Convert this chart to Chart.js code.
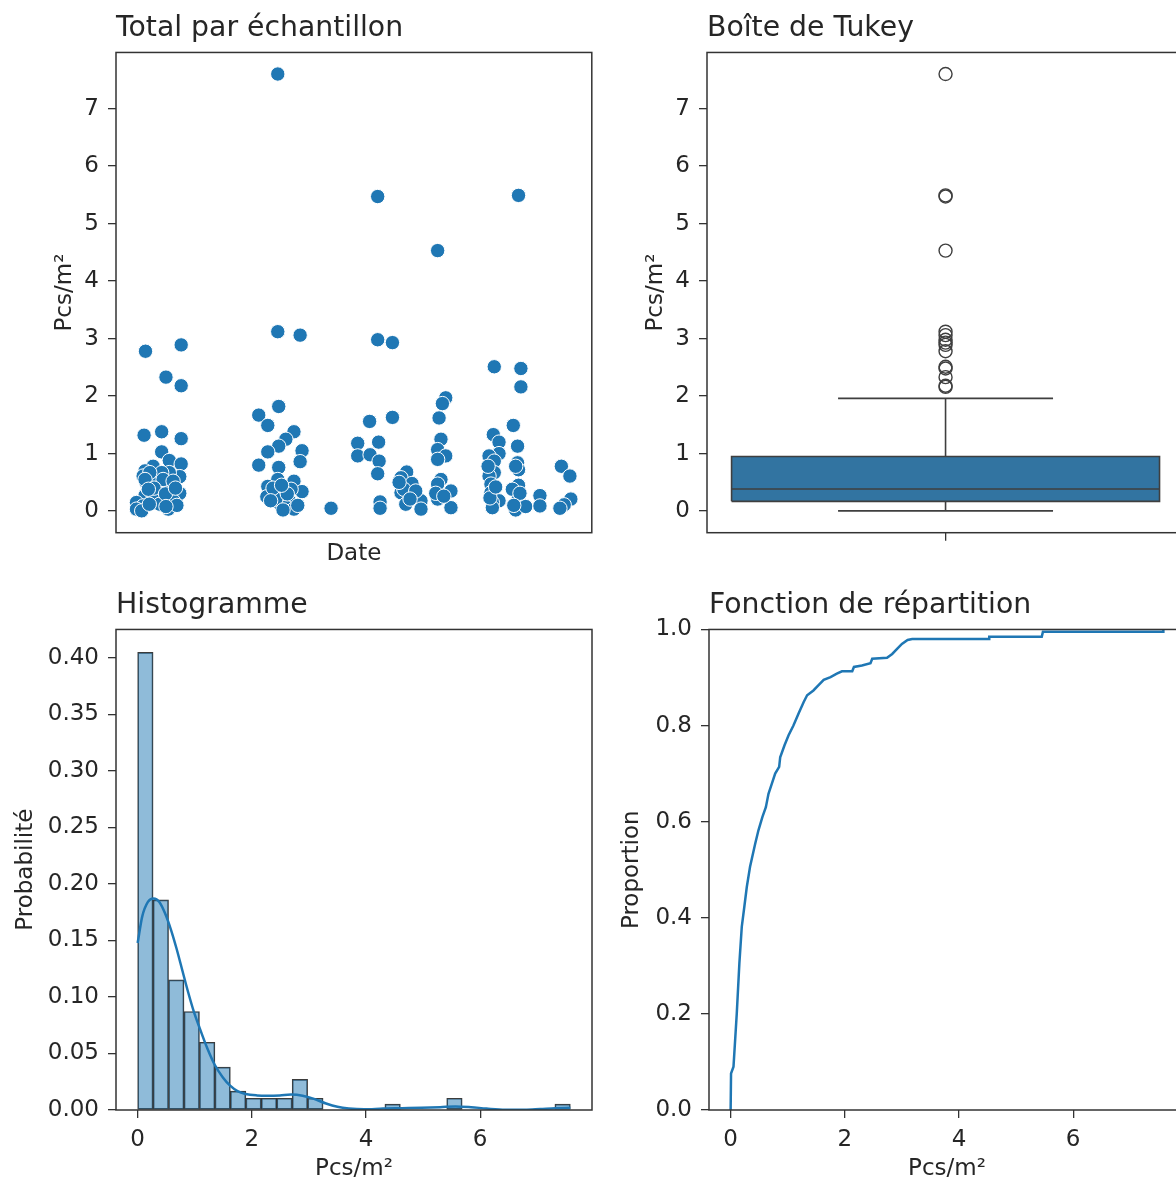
<!DOCTYPE html>
<html><head><meta charset="utf-8">
<script src="https://cdn.jsdelivr.net/npm/chart.js@4.4.1/dist/chart.umd.min.js"></script>
<style>
html,body{margin:0;padding:0;background:#fff;overflow:hidden;width:1176px;height:1182px;position:relative;}
canvas{position:absolute;}
</style></head><body>
<canvas id="c1" width="600" height="580" style="left:0;top:0"></canvas>
<canvas id="c2" width="600" height="580" style="left:592px;top:0"></canvas>
<canvas id="c3" width="600" height="623" style="left:0;top:577px"></canvas>
<canvas id="c4" width="600" height="623" style="left:592px;top:577px"></canvas>
<script>
// ---------- DATA ----------
const panelTitles = ['Total par échantillon', 'Boîte de Tukey', 'Histogramme', 'Fonction de répartition'];
const unitLabel = 'Pcs/m²';

// Scatter: sample day index (Date axis, no ticks) and Pcs/m²
const scatterDays = [
  6.2,13.7,10.5,13.7,5.9,9.6,13.7,9.6,11.2,13.7,7.8,6.1,5.7,13.4,11.2,9.6,6.3,8.4,11.2,13.4,6.1,9.6,12.0,4.3,5.7,11.0,4.3,7.8,12.8,5.4,9.2,7.1,6.1,9.9,12.0,
  8.0,10.4,12.5,7.0,10.5,6.8,
  30.0,31.9,34.0,38.7,34.0,34.2,37.4,35.7,34.2,31.9,39.1,38.7,30.0,34.2,34.0,37.4,31.9,39.1,31.7,34.0,35.3,36.6,34.5,35.7,37.4,33.6,33.0,36.8,38.2,35.1,
  32.5,36.0,34.8,
  45.2,
  55.0,55.0,58.1,53.3,58.1,50.8,55.2,50.8,53.4,55.3,55.0,55.5,55.5,
  61.1,59.9,62.2,59.9,62.0,60.9,64.1,64.1,60.5,63.0,61.8,59.5,
  67.6,69.3,68.6,67.9,68.3,67.6,69.3,67.6,68.3,67.6,70.4,67.6,70.4,67.2,68.9,
  79.5,79.3,80.5,80.5,78.4,79.5,79.5,78.4,78.8,78.8,80.5,79.1,79.1,78.2,78.6,79.8,
  84.6,85.1,85.1,83.5,84.4,84.4,84.6,84.6,83.3,84.4,84.0,86.1,84.0,84.9,83.6,
  89.1,89.1,93.6,95.4,95.6,94.2,93.3
];
const scatterValues = [
  2.78,2.89,2.33,2.18,1.32,1.38,1.26,1.03,0.88,0.82,0.78,0.70,0.61,0.60,0.67,0.67,0.50,0.47,0.47,0.31,0.27,0.18,0.18,0.15,0.09,0.035,0.035,0.27,0.10,0.005,0.12,0.67,0.55,0.55,0.52,
  0.40,0.30,0.40,0.12,0.08,0.38,
  1.67,1.49,3.12,3.06,7.60,1.82,1.38,1.25,1.13,1.03,1.05,0.86,0.80,0.76,0.55,0.52,0.43,0.34,0.25,0.33,0.24,0.16,0.12,0.07,0.035,0.21,0.40,0.38,0.10,0.02,
  0.18,0.30,0.45,
  0.05,
  5.47,2.98,2.93,1.56,1.63,1.18,1.20,0.96,0.98,0.87,0.65,0.16,0.05,
  0.68,0.58,0.48,0.32,0.25,0.12,0.18,0.035,0.38,0.35,0.21,0.50,
  4.53,1.97,1.87,1.62,1.25,1.07,0.96,0.90,0.55,0.47,0.35,0.21,0.06,0.31,0.26,
  2.51,1.33,1.20,1.00,0.96,0.87,0.67,0.61,0.47,0.32,0.18,0.15,0.06,0.78,0.23,0.42,
  5.49,2.48,2.16,1.49,1.13,0.84,0.72,0.45,0.38,0.18,0.02,0.08,0.78,0.31,0.10,
  0.27,0.09,0.78,0.61,0.21,0.11,0.05
];
const pcsTicks = [0,1,2,3,4,5,6,7];

// Tukey box: quartiles, whiskers, outliers
const boxQ1 = 0.17, boxMedian = 0.385, boxQ3 = 0.95;
const whiskerLow = 0.005, whiskerHigh = 1.96;
const boxOutliers = [2.16,2.18,2.33,2.48,2.51,2.78,2.89,2.93,2.98,3.06,3.12,4.53,5.47,5.49,7.60];

// Histogram (probability per bin), bins start at 0
const histBinStart = 0, histBinWidth = 0.2707;
const histProb = [0.4047,0.1858,0.1151,0.0871,0.0599,0.0379,0.0167,0.0104,0.0104,0.0104,0.0271,0.0104,
                  0,0,0,0,0.0052,0,0,0,0.0104,0,0,0,0,0,0,0.0052];
const kdeX = [0,0.08,0.18,0.28,0.38,0.48,0.58,0.68,0.78,0.88,0.98,1.09,1.22,1.35,1.49,1.62,1.75,1.89,2.09,2.29,2.49,2.69,2.89,3.09,3.30,3.50,3.70,3.97,4.30,4.63,4.97,5.30,5.57,5.84,6.11,6.44,6.78,7.05,7.32,7.58];
const kdeY = [0.1476,0.171,0.184,0.187,0.184,0.174,0.160,0.143,0.124,0.105,0.0877,0.072,0.0546,0.040,0.029,0.0215,0.0167,0.0142,0.0129,0.0126,0.0129,0.0136,0.0126,0.0098,0.0057,0.0028,0.0013,0.0006,0.0013,0.0016,0.0019,0.0025,0.0032,0.0025,0.0013,0.0003,0.0003,0.0009,0.0016,0.0019];
const histYTicks = [0,0.05,0.10,0.15,0.20,0.25,0.30,0.35,0.40];
const valueXTicks = [0,2,4,6];

// ECDF curve
const ecdfX = [0,0.007,0.05,0.107,0.153,0.195,0.24,0.283,0.34,0.43,0.487,0.557,0.617,0.663,0.722,0.78,0.85,0.868,0.944,1.015,1.10,1.19,1.28,1.34,1.45,1.54,1.63,1.75,1.86,1.95,2.13,2.16,2.30,2.45,2.48,2.74,2.83,2.92,3.00,3.10,3.18,4.53,4.53,5.45,5.47,7.58,7.58];
const ecdfP = [0,0.076,0.09,0.20,0.305,0.381,0.423,0.464,0.506,0.554,0.582,0.61,0.63,0.658,0.679,0.70,0.714,0.734,0.759,0.78,0.80,0.825,0.849,0.863,0.873,0.884,0.895,0.901,0.908,0.913,0.913,0.922,0.925,0.93,0.939,0.941,0.949,0.96,0.97,0.978,0.98,0.98,0.985,0.985,0.995,0.995,1.0];
const ecdfYTicks = [0,0.2,0.4,0.6,0.8,1.0];

// ---------- STYLE ----------
const BLUE = '#1f77b4';
const TXT = '#262626';
const SPINE = '#333333';
const BOX_HALF = 0.4485, CAP_HALF = 0.2253;
Chart.defaults.font.family = "'DejaVu Sans', sans-serif";
Chart.defaults.font.size = 23;
Chart.defaults.color = TXT;

const framePlugin = {id:'frame', afterDraw(chart){
  const a = chart.chartArea, c = chart.ctx;
  c.save(); c.strokeStyle = SPINE; c.lineWidth = 1.5;
  c.strokeRect(a.left, a.top, a.right - a.left, a.bottom - a.top);
  c.restore();
}};

function titleOpt(text){
  return {display:true, text, align:'start', fullSize:false, color:TXT,
          font:{size:28.3, weight:'normal'}, padding:{top:12, bottom:6.5}};
}
function tickGrid(){ return {display:true, drawOnChartArea:false, drawTicks:true, tickLength:8, tickColor:SPINE, color:SPINE, lineWidth:1.3, offset:false}; }
function fixedTicks(arr){ return function(s){ s.ticks = arr.map(v => ({value:v})); }; }
const common = {responsive:false, animation:false, events:[], maintainAspectRatio:false};

// ---------- 1: scatter ----------
new Chart(document.getElementById('c1'), {
  type:'scatter',
  data:{datasets:[{
    data: scatterDays.map((d,i) => ({x:d, y:scatterValues[i]})),
    backgroundColor:BLUE, borderColor:'#ffffff', borderWidth:1, pointRadius:7.2, pointHoverRadius:7.2
  }]},
  options:Object.assign({}, common, {
    layout:{padding:{left:50.8, right:8, top:0, bottom:12.2}},
    plugins:{legend:{display:false}, tooltip:{enabled:false}, title:titleOpt(panelTitles[0])},
    scales:{
      x:{type:'linear', min:0, max:100, ticks:{display:false}, grid:{display:false}, border:{display:false},
         title:{display:true, text:'Date', padding:0}, afterFit(s){ s.height = 35.1; }},
      y:{type:'linear', min:-0.375, max:7.975, afterBuildTicks:fixedTicks(pcsTicks),
         ticks:{padding:9, callback:v => String(v)}, grid:tickGrid(), border:{display:false},
         title:{display:true, text:unitLabel, padding:0}, afterFit(s){ s.width = 65.2; }}
    }
  }),
  plugins:[framePlugin]
});

// ---------- 2: Tukey box ----------
const GREY = '#3f3f3f';
new Chart(document.getElementById('c2'), {
  type:'scatter',
  data:{datasets:[
    {data: boxOutliers.map(v => ({x:0, y:v})), backgroundColor:'rgba(0,0,0,0)', borderColor:GREY, borderWidth:1.4, pointRadius:6.5},
    {data:[{x:-CAP_HALF,y:whiskerHigh},{x:CAP_HALF,y:whiskerHigh},{x:0,y:null},{x:-CAP_HALF,y:whiskerLow},{x:CAP_HALF,y:whiskerLow}],
     showLine:true, spanGaps:false, borderColor:GREY, borderWidth:1.6, pointRadius:0},
    {data:[{x:-BOX_HALF,y:boxMedian},{x:BOX_HALF,y:boxMedian}], showLine:true, borderColor:GREY, borderWidth:1.6, pointRadius:0},
    {data:[{x:-BOX_HALF,y:boxQ1},{x:BOX_HALF,y:boxQ1},{x:BOX_HALF,y:boxQ3},{x:-BOX_HALF,y:boxQ3},{x:-BOX_HALF,y:boxQ1}],
     showLine:true, borderColor:GREY, borderWidth:1.6, pointRadius:0},
    {data:[{x:-BOX_HALF,y:boxQ3},{x:BOX_HALF,y:boxQ3}], showLine:true, fill:{value:boxQ1},
     backgroundColor:'#3274a1', borderWidth:0, borderColor:'rgba(0,0,0,0)', pointRadius:0},
    {data:[{x:0,y:boxQ3},{x:0,y:whiskerHigh},{x:0,y:null},{x:0,y:boxQ1},{x:0,y:whiskerLow}],
     showLine:true, spanGaps:false, borderColor:GREY, borderWidth:1.6, pointRadius:0}
  ]},
  options:Object.assign({}, common, {
    layout:{padding:{left:50.3, right:7, top:0, bottom:27.3}},
    plugins:{legend:{display:false}, tooltip:{enabled:false}, title:titleOpt(panelTitles[1])},
    scales:{
      x:{type:'linear', min:-0.5, max:0.5, afterBuildTicks:fixedTicks([0]), ticks:{callback:() => ''},
         grid:tickGrid(), border:{display:false}, afterFit(s){ s.height = 20; }},
      y:{type:'linear', min:-0.375, max:7.975, afterBuildTicks:fixedTicks(pcsTicks),
         ticks:{padding:9, callback:v => String(v)}, grid:tickGrid(), border:{display:false},
         title:{display:true, text:unitLabel, padding:0}, afterFit(s){ s.width = 64.7; }}
    }
  }),
  plugins:[framePlugin]
});

// ---------- 3: histogram ----------
new Chart(document.getElementById('c3'), {
  type:'bar',
  data:{datasets:[
    {type:'line', data: kdeX.map((x,i) => ({x, y:kdeY[i]})), borderColor:BLUE, borderWidth:2.5,
     pointRadius:0, cubicInterpolationMode:'monotone', fill:false},
    {type:'bar', data: histProb.map((p,i) => ({x: histBinStart + (i + 0.5) * histBinWidth, y:p})),
     backgroundColor:'rgba(31,119,180,0.5)', borderColor:'rgba(38,38,38,0.9)', borderWidth:1,
     barPercentage:1, categoryPercentage:1, borderSkipped:false}
  ]},
  options:Object.assign({}, common, {
    layout:{padding:{left:12.3, right:8, top:0, bottom:17.2}},
    plugins:{legend:{display:false}, tooltip:{enabled:false}, title:titleOpt(panelTitles[2])},
    scales:{
      x:{type:'linear', offset:false, min:-0.379, max:7.959, afterBuildTicks:fixedTicks(valueXTicks),
         ticks:{padding:8, callback:v => String(v)}, grid:tickGrid(), border:{display:false},
         title:{display:true, text:unitLabel, padding:0}, afterFit(s){ s.height = 72.8; }},
      y:{type:'linear', min:0, max:0.4249, afterBuildTicks:fixedTicks(histYTicks),
         ticks:{padding:9, callback:v => v.toFixed(2)}, grid:tickGrid(), border:{display:false},
         title:{display:true, text:'Probabilité', padding:0}, afterFit(s){ s.width = 103.7; }}
    }
  }),
  plugins:[framePlugin]
});

// ---------- 4: ECDF ----------
new Chart(document.getElementById('c4'), {
  type:'scatter',
  data:{datasets:[
    {data: ecdfX.map((x,i) => ({x, y:ecdfP[i]})), showLine:true,
     borderColor:BLUE, borderWidth:2.5, pointRadius:0, borderJoinStyle:'miter'}
  ]},
  options:Object.assign({}, common, {
    layout:{padding:{left:25.8, right:7, top:0, bottom:17.2}},
    plugins:{legend:{display:false}, tooltip:{enabled:false}, title:titleOpt(panelTitles[3])},
    scales:{
      x:{type:'linear', min:-0.379, max:7.959, afterBuildTicks:fixedTicks(valueXTicks),
         ticks:{padding:8, callback:v => String(v)}, grid:tickGrid(), border:{display:false},
         title:{display:true, text:unitLabel, padding:0}, afterFit(s){ s.height = 72.8; }},
      y:{type:'linear', min:0, max:1, afterBuildTicks:fixedTicks(ecdfYTicks),
         ticks:{padding:9, callback:v => v.toFixed(1)}, grid:tickGrid(), border:{display:false},
         title:{display:true, text:'Proportion', padding:0}, afterFit(s){ s.width = 91.2; }}
    }
  }),
  plugins:[framePlugin]
});
</script>
</body></html>
